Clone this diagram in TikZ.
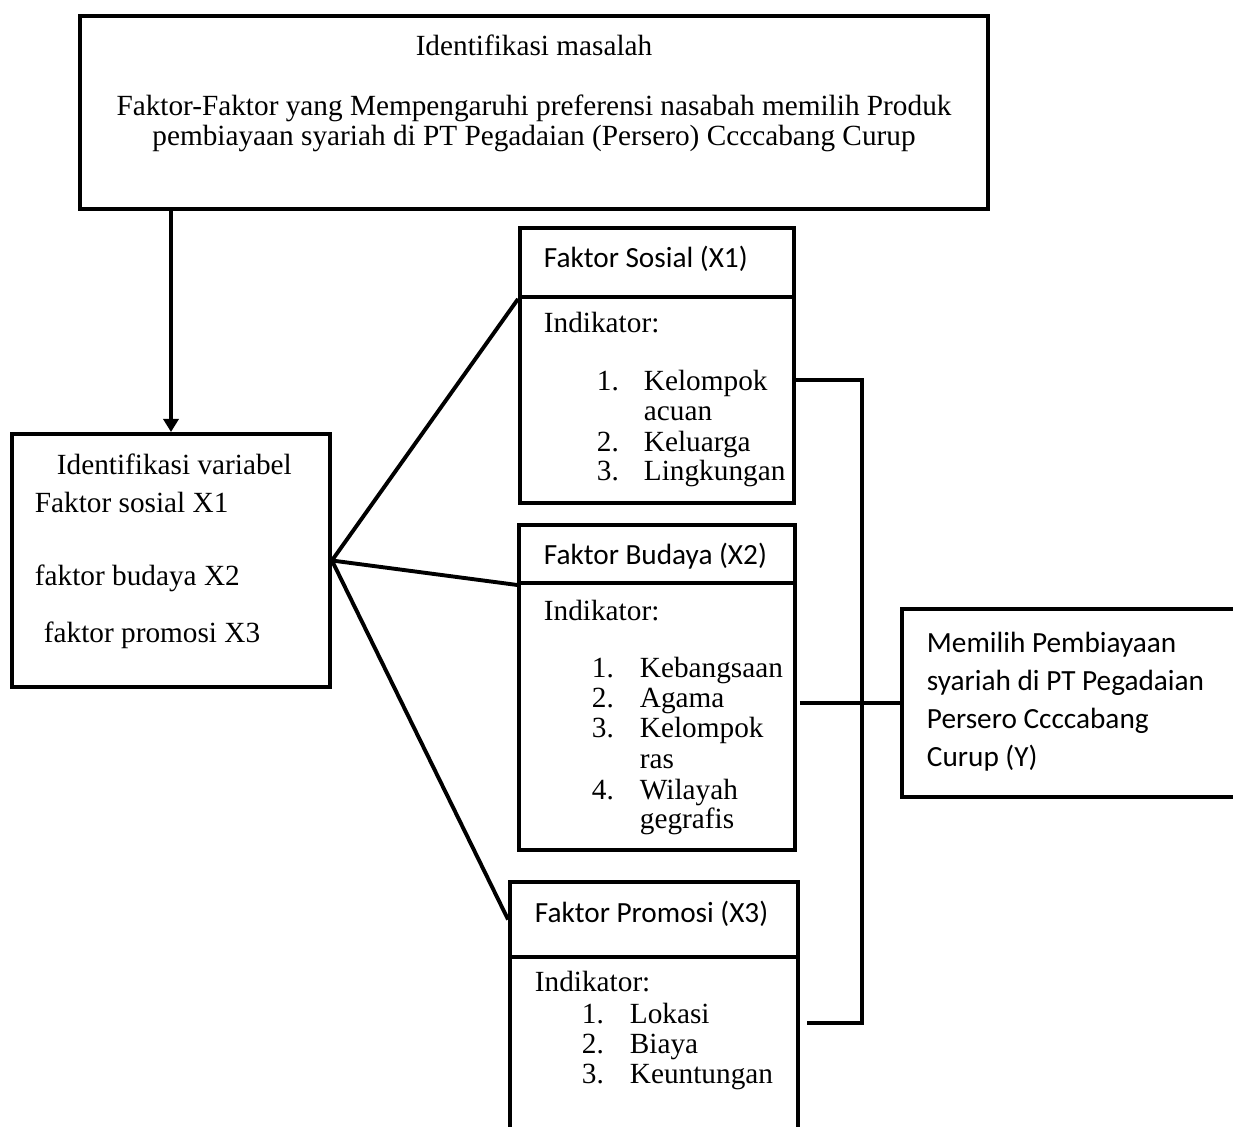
\documentclass[tikz,border=0pt]{standalone}
\usepackage{fontspec}
\setmainfont{Liberation Serif}
\newfontfamily\calfont{Carlito}
\usetikzlibrary{arrows.meta,fit}
\begin{document}
\begin{tikzpicture}[x=0.41pt, y=-0.41pt, line width=1.6pt, line join=miter,
  font=\fontsize{12}{14}\selectfont, >={Triangle[width=6.2pt,length=5.4pt]},
  box/.style={draw, inner sep=0pt, fit={#1}},
  txt/.style={anchor=base west, inner sep=0pt},
  hd/.style={txt, font=\fontsize{12}{14}\selectfont\calfont}]
\useasboundingbox (0,0) rectangle (1233,1127);
% kotak
\node[box={(80,16)(988,209)}] (masalah) {};
\node[box={(12,434)(330,687)}] (variabel) {};
\node[box={(520,228)(794,297)}] (sosialH) {};
\node[box={(520,297)(794,503)}] (sosialB) {};
\node[box={(519,525)(795,583)}] (budayaH) {};
\node[box={(519,583)(795,850)}] (budayaB) {};
\node[box={(510,882)(798,957)}] (promosiH) {};
\node[box={(510,957)(798,1150)}] (promosiB) {};
\node[box={(902,609)(1250,797)}] (pilih) {};
% teks
\node[anchor=base, inner sep=0pt] (m1) at (534,55) {Identifikasi masalah};
\node[anchor=base, inner sep=0pt] (m2) at (534,115) {Faktor-Faktor yang Mempengaruhi preferensi nasabah memilih Produk};
\node[anchor=base, inner sep=0pt] (m3) at (534,145) {pembiayaan syariah di PT Pegadaian (Persero) Ccccabang Curup};
\node[txt] (v0) at (55,474) {Identifikasi variabel};
\node[txt] (v1) at (33,512) {Faktor sosial X1};
\node[txt] (v2) at (33,585) {faktor budaya X2};
\node[txt] (v3) at (42,642) {faktor promosi X3};
\node[hd] (sh) at (542,267) {Faktor Sosial (X1)};
\node[txt] (si) at (542,332) {Indikator:};
\foreach \yy/\nm/\lbl [count=\k] in {390/1./Kelompok, 420//acuan, 451/2./Keluarga, 480/3./Lingkungan}{
  \node[txt] (sn\k) at (595,\yy) {\nm};
  \node[txt] (sa\k) at (642,\yy) {\lbl};
}
\node[hd] (bh) at (542,564) {Faktor Budaya (X2)};
\node[txt] (bi) at (542,620) {Indikator:};
\foreach \yy/\nm/\lbl [count=\k] in {677/1./Kebangsaan, 707/2./Agama, 737/3./Kelompok, 768//ras, 799/4./Wilayah, 828//gegrafis}{
  \node[txt] (bn\k) at (590,\yy) {\nm};
  \node[txt] (ba\k) at (638,\yy) {\lbl};
}
\node[hd] (ph) at (533,922) {Faktor Promosi (X3)};
\node[txt] (pi) at (533,991) {Indikator:};
\foreach \yy/\nm/\lbl [count=\k] in {1023/1./Lokasi, 1053/2./Biaya, 1083/3./Keuntungan}{
  \node[txt] (pn\k) at (580,\yy) {\nm};
  \node[txt] (pa\k) at (628,\yy) {\lbl};
}
\foreach \yy/\lbl [count=\k] in {652/Memilih Pembiayaan, 690/syariah di PT Pegadaian, 728/Persero Ccccabang, 766/Curup (Y)}
  \node[hd] (y\k) at (925,\yy) {\lbl};
% garis
\draw[->] (variabel.north |- masalah.south) -- (variabel.north);
\draw (sosialH.south west) -- (variabel.east) -- (budayaH.south west);
\draw (variabel.east) -- (promosiH.west);
\coordinate (j1) at (862,380);
\coordinate (j3) at (862,1023);
\draw (sosialB.east |- j1) -- (j1) -- (j3) -- ([xshift=3pt]promosiB.east |- j3);
\draw ([xshift=1.2pt]budayaB.east |- pilih.west) -- (pilih.west);
\end{tikzpicture}
\end{document}
